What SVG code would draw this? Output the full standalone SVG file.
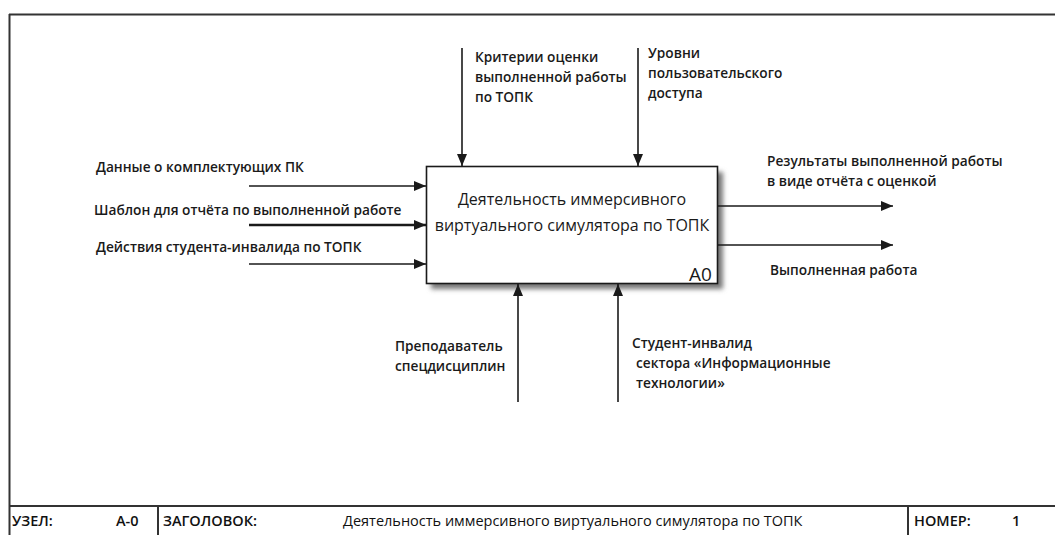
<svg xmlns="http://www.w3.org/2000/svg" width="1055" height="535" viewBox="0 0 1055 535">
  <defs>
    <marker id="arrow" viewBox="0 0 12 10" refX="12" refY="5" markerWidth="12" markerHeight="10" markerUnits="userSpaceOnUse" orient="auto">
      <path d="M0,0 L12,5 L0,10 Z" fill="#1a1a1a"/>
    </marker>
    <filter id="shadow" x="-10%" y="-10%" width="130%" height="140%">
      <feGaussianBlur stdDeviation="2.5"/>
    </filter>
    <style>
      .frame { stroke: #333; stroke-width: 2; fill: none; }
      .flow { stroke: #1a1a1a; stroke-width: 1.6; fill: none; marker-end: url(#arrow); }
      .lbl { font-family: "Open Sans", "Liberation Sans", sans-serif; font-size: 13.7px; font-weight: 600; fill: #1a1a1a; }
      .box-text { font-family: "Open Sans", "Liberation Sans", sans-serif; font-size: 16px; font-weight: 500; fill: #1a1a1a; text-anchor: middle; }
      .tb { font-family: "Open Sans", "Liberation Sans", sans-serif; font-size: 14.5px; fill: #111; font-weight: 600; }
    </style>
  </defs>

  <rect width="1055" height="535" fill="#fff"/>

  <!-- drawing frame and title block -->
  <g id="frame">
    <line class="frame" x1="9" y1="14.5" x2="1055" y2="14.5"/>
    <line class="frame" x1="9.5" y1="14" x2="9.5" y2="535"/>
    <line class="frame" x1="9" y1="506" x2="1055" y2="506"/>
    <line class="frame" x1="158" y1="506" x2="158" y2="535"/>
    <line class="frame" x1="908" y1="506" x2="908" y2="535"/>
    <text class="tb" x="12" y="526">УЗЕЛ:</text>
    <text class="tb" x="116" y="526">А-0</text>
    <text class="tb" x="163" y="526">ЗАГОЛОВОК:</text>
    <text class="tb" x="343" y="526" style="font-weight:500">Деятельность иммерсивного виртуального симулятора по ТОПК</text>
    <text class="tb" x="914" y="526">НОМЕР:</text>
    <text class="tb" x="1012" y="526">1</text>
  </g>

  <!-- activity A0 -->
  <g id="node-a0">
    <rect x="431" y="172" width="292" height="117" fill="#777" filter="url(#shadow)"/>
    <rect x="426.5" y="166.5" width="291" height="117" fill="#fff" stroke="#1a1a1a" stroke-width="1.6"/>
    <text class="box-text" x="572" y="205">Деятельность иммерсивного</text>
    <text class="box-text" x="572" y="231">виртуального симулятора по ТОПК</text>
    <text x="712" y="281" style="font-family:'Open Sans','Liberation Sans',sans-serif;font-size:19px;font-weight:500;fill:#1a1a1a;text-anchor:end">A0</text>
  </g>

  <!-- connectors -->
  <g id="connectors">
    <!-- inputs -->
    <line class="flow" x1="249" y1="186" x2="426" y2="186"/>
    <line class="flow" x1="249" y1="225" x2="426" y2="225" style="stroke-width:2.4"/>
    <line class="flow" x1="249" y1="264" x2="426" y2="264"/>
    <!-- controls -->
    <line class="flow" x1="462" y1="48" x2="462" y2="166"/>
    <line class="flow" x1="638" y1="48" x2="638" y2="166"/>
    <!-- outputs -->
    <line class="flow" x1="718" y1="206" x2="893" y2="206"/>
    <line class="flow" x1="718" y1="245" x2="893" y2="245"/>
    <!-- mechanisms -->
    <line class="flow" x1="518" y1="402" x2="518" y2="284"/>
    <line class="flow" x1="618" y1="402" x2="618" y2="284"/>
  </g>

  <!-- arrow labels -->
  <g id="labels">
    <text class="lbl" x="96" y="172">Данные о комплектующих ПК</text>
    <text class="lbl" x="94" y="215">Шаблон для отчёта по выполненной работе</text>
    <text class="lbl" x="96" y="252">Действия студента-инвалида по ТОПК</text>

    <text class="lbl" x="475" y="62">Критерии оценки</text>
    <text class="lbl" x="475" y="82">выполненной работы</text>
    <text class="lbl" x="475" y="102">по ТОПК</text>

    <text class="lbl" x="648" y="58">Уровни</text>
    <text class="lbl" x="648" y="78">пользовательского</text>
    <text class="lbl" x="648" y="98">доступа</text>

    <text class="lbl" x="767" y="166">Результаты выполненной работы</text>
    <text class="lbl" x="767" y="186">в виде отчёта с оценкой</text>
    <text class="lbl" x="770" y="275">Выполненная работа</text>

    <text class="lbl" x="395" y="351">Преподаватель</text>
    <text class="lbl" x="395" y="371">спецдисциплин</text>

    <text class="lbl" x="632" y="348">Студент-инвалид</text>
    <text class="lbl" x="636" y="368">сектора «Информационные</text>
    <text class="lbl" x="636" y="388">технологии»</text>
  </g>
</svg>
